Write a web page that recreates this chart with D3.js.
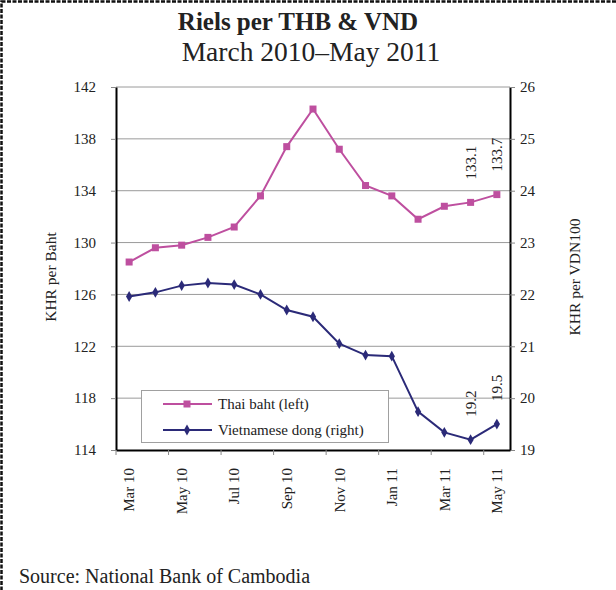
<!DOCTYPE html>
<html>
<head>
<meta charset="utf-8">
<script src="https://cdn.jsdelivr.net/npm/d3@7"></script>
<style>
  html, body { margin: 0; padding: 0; background: #fff; }
  svg { display: block; font-family: "Liberation Serif", "Times New Roman", serif; }
</style>
</head>
<body>
<svg id="chart" width="616" height="590"></svg>
<script>
// Monthly exchange rates, March 2010 – May 2011
const months = ["Mar 10","Apr 10","May 10","Jun 10","Jul 10","Aug 10","Sep 10","Oct 10",
                "Nov 10","Dec 10","Jan 11","Feb 11","Mar 11","Apr 11","May 11"];
// Riels per Thai baht (left axis)
const thaiBaht = [128.5,129.6,129.8,130.4,131.2,133.6,137.4,140.3,137.2,134.4,133.6,131.8,132.8,133.1,133.7];
// Riels per 100 Vietnamese dong (right axis)
const vietDong = [21.96,22.04,22.17,22.22,22.19,22.0,21.7,21.57,21.05,20.83,20.81,19.74,19.34,19.2,19.5];
// Tick values
const leftTicks = [114,118,122,126,130,134,138,142];
const rightTicks = [19,20,21,22,23,24,25,26];
const xTickLabels = ["Mar 10","May 10","Jul 10","Sep 10","Nov 10","Jan 11","Mar 11","May 11"];
// Points carrying value labels
const labelledIdx = [13, 14];

const thaiColor = "#BE4F9F";
const dongColor = "#2B2A78";
const textColor = "#222";

const svg = d3.select("#chart");
const plot = { left: 116, right: 510, top: 87, bottom: 450 };

// Dashed outer frame
svg.append("rect")
  .attr("x", 1.5).attr("y", 1.5).attr("width", 700).attr("height", 700)
  .attr("fill", "none").attr("stroke", "#111").attr("stroke-width", 2.5)
  .attr("stroke-dasharray", "4,1.5");

// Titles
svg.append("text").attr("x", 298).attr("y", 30).attr("text-anchor", "middle")
  .attr("font-size", 25).attr("font-weight", "bold").attr("fill", textColor)
  .text("Riels per THB & VND");
svg.append("text").attr("x", 311).attr("y", 61).attr("text-anchor", "middle")
  .attr("font-size", 27.5).attr("fill", textColor)
  .text("March 2010\u2013May 2011");

// Scales
const x = d3.scaleBand().domain(months).range([plot.left, plot.right]).padding(0);
const yL = d3.scaleLinear().domain([114, 142]).range([plot.bottom, plot.top]);
const yR = d3.scaleLinear().domain([19, 26]).range([plot.bottom, plot.top]);
const cx = d => x(d) + x.bandwidth() / 2;

// Gridlines
svg.append("g").selectAll("line").data(leftTicks.filter(t => t > 114)).join("line")
  .attr("x1", plot.left).attr("x2", plot.right)
  .attr("y1", d => yL(d)).attr("y2", d => yL(d))
  .attr("stroke", "#9a9a9a").attr("stroke-width", 1);

// Left axis
const gL = svg.append("g").attr("transform", `translate(${plot.left},0)`)
  .call(d3.axisLeft(yL).tickValues(leftTicks).tickFormat(d3.format("d"))
    .tickSize(5).tickPadding(15).tickSizeOuter(0));
// Right axis
const gR = svg.append("g").attr("transform", `translate(${plot.right},0)`)
  .call(d3.axisRight(yR).tickValues(rightTicks).tickFormat(d3.format("d"))
    .tickSize(5).tickPadding(5).tickSizeOuter(0));
// Bottom axis
const gB = svg.append("g").attr("transform", `translate(0,${plot.bottom})`)
  .call(d3.axisBottom(x).tickValues(xTickLabels).tickSize(5).tickSizeOuter(0));

[gL, gR, gB].forEach(g => {
  g.select(".domain").attr("stroke", "#000").attr("stroke-width", 2);
  g.selectAll(".tick line").attr("stroke", "#888");
  g.selectAll(".tick text").attr("font-family", "Liberation Serif, serif")
    .attr("font-size", 15).attr("fill", textColor);
});
// x tick marks sit on category boundaries; labels are rotated
gB.selectAll(".tick line").attr("x1", -x.bandwidth() / 2).attr("x2", -x.bandwidth() / 2);
gB.selectAll(".tick text")
  .attr("transform", "rotate(-90)")
  .attr("text-anchor", "end")
  .attr("x", -18).attr("y", 0).attr("dy", "0.35em");

// Axis titles
svg.append("text").attr("transform", "translate(56,277) rotate(-90)")
  .attr("text-anchor", "middle").attr("font-size", 15.5).attr("fill", textColor)
  .text("KHR per Baht");
svg.append("text").attr("transform", "translate(580,277) rotate(-90)")
  .attr("text-anchor", "middle").attr("font-size", 15.5).attr("fill", textColor)
  .text("KHR per VDN100");

// Lines
const lineL = d3.line().x((d, i) => cx(months[i])).y(d => yL(d));
const lineR = d3.line().x((d, i) => cx(months[i])).y(d => yR(d));

svg.append("path").datum(thaiBaht).attr("d", lineL)
  .attr("fill", "none").attr("stroke", thaiColor).attr("stroke-width", 2);
svg.append("path").datum(vietDong).attr("d", lineR)
  .attr("fill", "none").attr("stroke", dongColor).attr("stroke-width", 2);

// Markers
const sq = 7;
svg.append("g").selectAll("rect").data(thaiBaht).join("rect")
  .attr("x", (d, i) => cx(months[i]) - sq / 2).attr("y", d => yL(d) - sq / 2)
  .attr("width", sq).attr("height", sq).attr("fill", thaiColor);
const diamond = d3.symbol().type(d3.symbolDiamond).size(34);
svg.append("g").selectAll("path").data(vietDong).join("path")
  .attr("transform", (d, i) => `translate(${cx(months[i])},${yR(d)})`)
  .attr("d", diamond).attr("fill", dongColor);

// Value labels
svg.append("g").selectAll("text").data(labelledIdx).join("text")
  .attr("transform", i => `translate(${cx(months[i]) + 5},${yL(thaiBaht[i]) - 23}) rotate(-90)`)
  .attr("font-size", 15).attr("fill", textColor)
  .text(i => d3.format(".1f")(thaiBaht[i]));
svg.append("g").selectAll("text").data(labelledIdx).join("text")
  .attr("transform", i => `translate(${cx(months[i]) + 5},${yR(vietDong[i]) - 23}) rotate(-90)`)
  .attr("font-size", 15).attr("fill", textColor)
  .text(i => d3.format(".1f")(vietDong[i]));

// Legend
const lg = svg.append("g");
lg.append("rect").attr("x", 141.5).attr("y", 390.5).attr("width", 247).attr("height", 52)
  .attr("fill", "#fff").attr("stroke", "#a0a0a0").attr("stroke-width", 1);
const legendItems = [
  { name: "Thai baht (left)", color: thaiColor, marker: "square" },
  { name: "Vietnamese dong (right)", color: dongColor, marker: "diamond" }
];
legendItems.forEach((it, k) => {
  const yy = 404 + k * 26;
  lg.append("line").attr("x1", 163).attr("x2", 212).attr("y1", yy).attr("y2", yy)
    .attr("stroke", it.color).attr("stroke-width", 2);
  if (it.marker === "square") {
    lg.append("rect").attr("x", 187 - sq / 2).attr("y", yy - sq / 2)
      .attr("width", sq).attr("height", sq).attr("fill", it.color);
  } else {
    lg.append("path").attr("transform", `translate(187,${yy})`).attr("d", diamond).attr("fill", it.color);
  }
  lg.append("text").attr("x", 218).attr("y", yy).attr("dy", "0.35em")
    .attr("font-size", 15).attr("fill", textColor).text(it.name);
});

// Source note
svg.append("text").attr("x", 19).attr("y", 583).attr("font-size", 20).attr("fill", textColor)
  .text("Source: National Bank of Cambodia");
</script>
</body>
</html>
